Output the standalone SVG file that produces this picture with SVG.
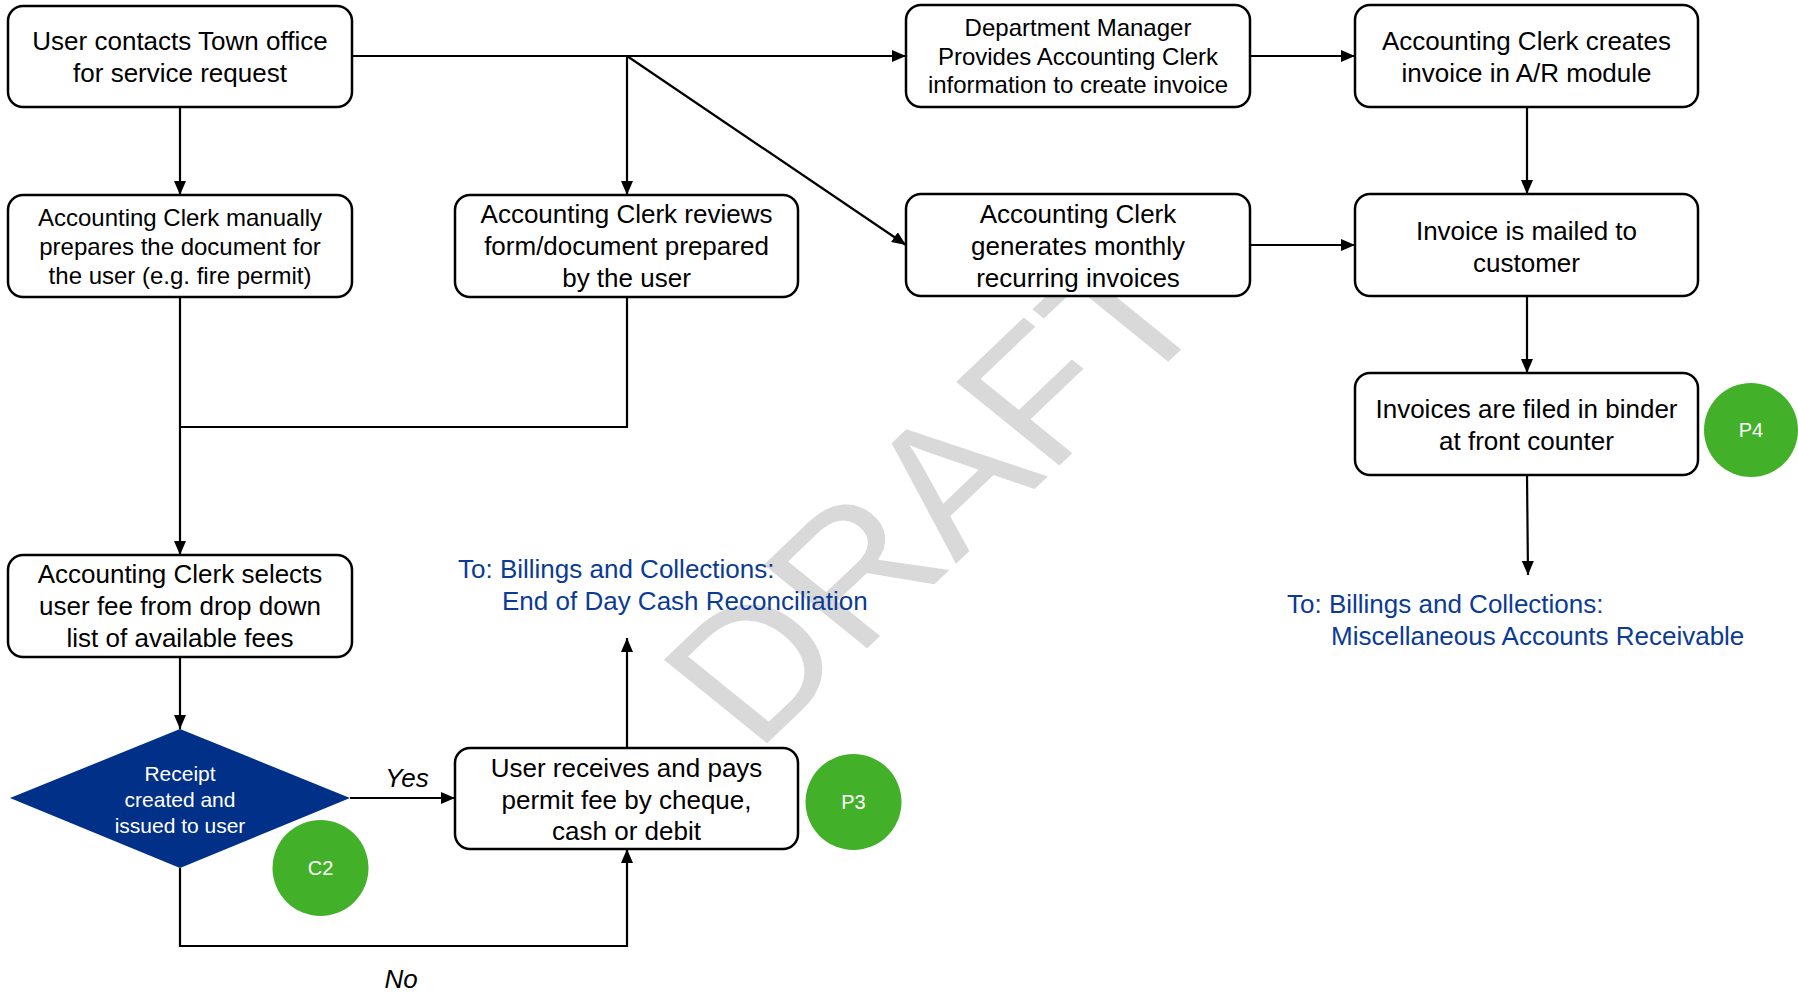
<svg xmlns="http://www.w3.org/2000/svg" width="1798" height="994" viewBox="0 0 1798 994">
  <style>
    .box { fill: #ffffff; stroke: #000000; stroke-width: 2.5; }
    .t26 { font-family: "Liberation Sans", Arial, sans-serif; font-size: 26px; fill: #000000; text-anchor: middle; }
    .t24 { font-family: "Liberation Sans", Arial, sans-serif; font-size: 24px; fill: #000000; text-anchor: middle; }
    .tdia { font-family: "Liberation Sans", Arial, sans-serif; font-size: 21px; fill: #ffffff; text-anchor: middle; }
    .badge { fill: #43b02a; }
    .tbadge { font-family: "Liberation Sans", Arial, sans-serif; font-size: 20px; fill: #ffffff; text-anchor: middle; }
    .link { fill: none; stroke: #000000; stroke-width: 2.2; }
    .ref { font-family: "Liberation Sans", Arial, sans-serif; font-size: 26px; fill: #0b3b94; }
    .lbl { font-family: "Liberation Sans", Arial, sans-serif; font-size: 26px; font-style: italic; fill: #000000; text-anchor: middle; }
    .wm { font-family: "Liberation Sans", Arial, sans-serif; font-size: 179px; fill: #d9d9d9; text-anchor: middle; }
  </style>
  <defs>
    <marker id="arrow" viewBox="0 0 14 12" refX="14" refY="6" markerWidth="14" markerHeight="12" markerUnits="userSpaceOnUse" orient="auto">
      <path d="M0,0 L14,6 L0,12 Z" fill="#000000"/>
    </marker>
  </defs>

  <rect width="1798" height="994" fill="#ffffff"/>

  <!-- watermark -->
  <text class="wm" transform="translate(986.4,534.7) scale(1.14,1) rotate(-47.3)" x="0" y="0">DRAFT</text>

  <!-- connectors -->
  <g id="connectors">
    <line class="link" x1="352" y1="56" x2="906" y2="56" marker-end="url(#arrow)"/>
    <line class="link" x1="627" y1="56" x2="627" y2="195" marker-end="url(#arrow)"/>
    <line class="link" x1="627" y1="56" x2="906" y2="245" marker-end="url(#arrow)"/>
    <line class="link" x1="180" y1="107" x2="180" y2="195" marker-end="url(#arrow)"/>
    <line class="link" x1="180" y1="297" x2="180" y2="555" marker-end="url(#arrow)"/>
    <polyline class="link" points="627,297 627,427 180,427"/>
    <line class="link" x1="1250" y1="56" x2="1355" y2="56" marker-end="url(#arrow)"/>
    <line class="link" x1="1527" y1="107" x2="1527" y2="194" marker-end="url(#arrow)"/>
    <line class="link" x1="1250" y1="245" x2="1355" y2="245" marker-end="url(#arrow)"/>
    <line class="link" x1="1527" y1="296" x2="1527" y2="373" marker-end="url(#arrow)"/>
    <line class="link" x1="1527" y1="475" x2="1528" y2="575" marker-end="url(#arrow)"/>
    <line class="link" x1="180" y1="657" x2="180" y2="729" marker-end="url(#arrow)"/>
    <line class="link" x1="350" y1="798" x2="455" y2="798" marker-end="url(#arrow)"/>
    <polyline class="link" points="180,868 180,946 627,946 627,849" marker-end="url(#arrow)"/>
    <line class="link" x1="627" y1="748" x2="627" y2="638" marker-end="url(#arrow)"/>
    <text class="lbl" x="407" y="787">Yes</text>
    <text class="lbl" x="401" y="988">No</text>
  </g>

  <g id="n-contact">
    <rect class="box" x="8" y="6" width="344" height="101" rx="15"/>
    <text class="t26" x="180" y="50">User contacts Town office</text>
    <text class="t26" x="180" y="82">for service request</text>
  </g>

  <g id="n-manual">
    <rect class="box" x="8" y="195" width="344" height="102" rx="15"/>
    <text class="t24" x="180" y="226">Accounting Clerk manually</text>
    <text class="t24" x="180" y="255">prepares the document for</text>
    <text class="t24" x="180" y="284">the user (e.g. fire permit)</text>
  </g>

  <g id="n-review">
    <rect class="box" x="455" y="195" width="343" height="102" rx="15"/>
    <text class="t26" x="626.5" y="223">Accounting Clerk reviews</text>
    <text class="t26" x="626.5" y="255">form/document prepared</text>
    <text class="t26" x="626.5" y="287">by the user</text>
  </g>

  <g id="n-manager">
    <rect class="box" x="906" y="5" width="344" height="102" rx="15"/>
    <text class="t24" x="1078" y="36">Department Manager</text>
    <text class="t24" x="1078" y="64.5">Provides Accounting Clerk</text>
    <text class="t24" x="1078" y="93">information to create invoice</text>
  </g>

  <g id="n-create">
    <rect class="box" x="1355" y="5" width="343" height="102" rx="15"/>
    <text class="t26" x="1526.5" y="50">Accounting Clerk creates</text>
    <text class="t26" x="1526.5" y="82">invoice in A/R module</text>
  </g>

  <g id="n-monthly">
    <rect class="box" x="906" y="194" width="344" height="102" rx="15"/>
    <text class="t26" x="1078" y="223">Accounting Clerk</text>
    <text class="t26" x="1078" y="255">generates monthly</text>
    <text class="t26" x="1078" y="287">recurring invoices</text>
  </g>

  <g id="n-mailed">
    <rect class="box" x="1355" y="194" width="343" height="102" rx="15"/>
    <text class="t26" x="1526.5" y="240">Invoice is mailed to</text>
    <text class="t26" x="1526.5" y="272">customer</text>
  </g>

  <g id="n-filed">
    <rect class="box" x="1355" y="373" width="343" height="102" rx="15"/>
    <text class="t26" x="1526.5" y="418">Invoices are filed in binder</text>
    <text class="t26" x="1526.5" y="450">at front counter</text>
  </g>

  <g id="b-p4">
    <circle class="badge" cx="1751" cy="430" r="47"/>
    <text class="tbadge" x="1751" y="437">P4</text>
  </g>

  <g id="ref-ar">
    <text class="ref" x="1287" y="613">To: Billings and Collections:</text>
    <text class="ref" x="1331" y="645">Miscellaneous Accounts Receivable</text>
  </g>

  <g id="n-select">
    <rect class="box" x="8" y="555" width="344" height="102" rx="15"/>
    <text class="t26" x="180" y="583">Accounting Clerk selects</text>
    <text class="t26" x="180" y="615">user fee from drop down</text>
    <text class="t26" x="180" y="647">list of available fees</text>
  </g>

  <g id="n-receipt">
    <polygon points="180,729 350,798 180,868 10,798" fill="#003087"/>
    <text class="tdia" x="180" y="781">Receipt</text>
    <text class="tdia" x="180" y="807">created and</text>
    <text class="tdia" x="180" y="833">issued to user</text>
  </g>

  <g id="b-c2">
    <circle class="badge" cx="320.5" cy="868" r="48"/>
    <text class="tbadge" x="320.5" y="875">C2</text>
  </g>

  <g id="n-pay">
    <rect class="box" x="455" y="748" width="343" height="101" rx="15"/>
    <text class="t26" x="626.5" y="777">User receives and pays</text>
    <text class="t26" x="626.5" y="809">permit fee by cheque,</text>
    <text class="t26" x="626.5" y="840">cash or debit</text>
  </g>

  <g id="b-p3">
    <circle class="badge" cx="853.5" cy="802" r="48"/>
    <text class="tbadge" x="853.5" y="809">P3</text>
  </g>

  <g id="ref-cash">
    <text class="ref" x="458" y="578">To: Billings and Collections:</text>
    <text class="ref" x="502" y="610">End of Day Cash Reconciliation</text>
  </g>
</svg>
